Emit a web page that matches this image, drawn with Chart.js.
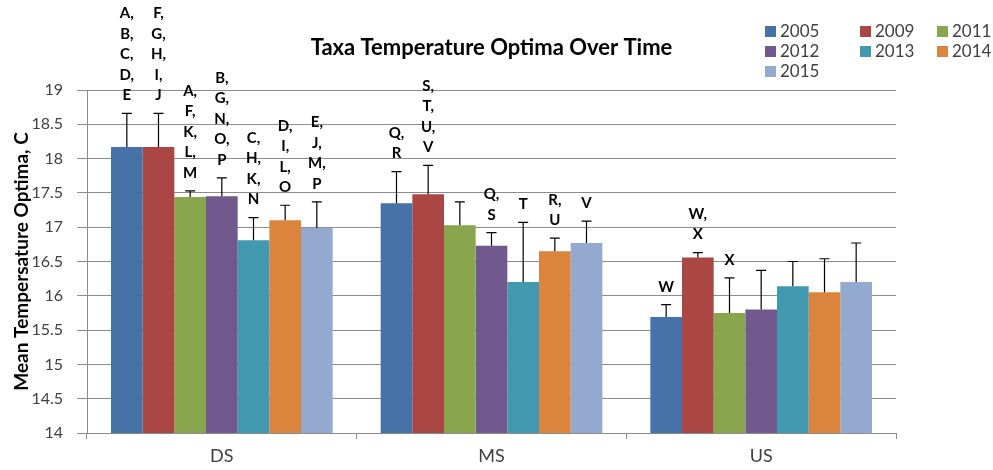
<!DOCTYPE html>
<html><head><meta charset="utf-8">
<script src="https://cdn.jsdelivr.net/npm/chart.js@4/dist/chart.umd.min.js"></script>
<style>html,body{margin:0;padding:0;background:#fff}#wrap{width:993px;height:470px}</style>
</head><body><div id="wrap"><canvas id="c" width="993" height="470"></canvas></div>
<script>
const categories = ['DS', 'MS', 'US'];
const years = ['2005', '2009', '2011', '2012', '2013', '2014', '2015'];
const colors = ['#4572A7', '#AA4643', '#89A54E', '#71588F', '#4198AF', '#DB843D', '#93A9CF'];

// Mean temperature optima per category (DS, MS, US)
const mean2005 = [18.17, 17.35, 15.69];
const mean2009 = [18.17, 17.48, 16.56];
const mean2011 = [17.44, 17.03, 15.75];
const mean2012 = [17.45, 16.73, 15.80];
const mean2013 = [16.81, 16.20, 16.14];
const mean2014 = [17.10, 16.65, 16.05];
const mean2015 = [16.99, 16.77, 16.20];

// Upper error bar lengths
const err2005 = [0.49, 0.46, 0.18];
const err2009 = [0.49, 0.42, 0.07];
const err2011 = [0.09, 0.34, 0.51];
const err2012 = [0.27, 0.19, 0.57];
const err2013 = [0.33, 0.87, 0.36];
const err2014 = [0.22, 0.19, 0.49];
const err2015 = [0.38, 0.32, 0.57];

// Significance letters above bars
const letters2005 = [['A,', 'B,', 'C,', 'D,', 'E'], ['Q,', 'R'], ['W']];
const letters2009 = [['F,', 'G,', 'H,', 'I,', 'J'], ['S,', 'T,', 'U,', 'V'], ['W,', 'X']];
const letters2011 = [['A,', 'F,', 'K,', 'L,', 'M'], [], ['X']];
const letters2012 = [['B,', 'G,', 'N,', 'O,', 'P'], ['Q,', 'S'], []];
const letters2013 = [['C,', 'H,', 'K,', 'N'], ['T'], []];
const letters2014 = [['D,', 'I,', 'L,', 'O'], ['R,', 'U'], []];
const letters2015 = [['E,', 'J,', 'M,', 'P'], ['V'], []];

const yMin = 14, yMax = 19, yStep = 0.5;

const means = [mean2005, mean2009, mean2011, mean2012, mean2013, mean2014, mean2015];
const errs = [err2005, err2009, err2011, err2012, err2013, err2014, err2015];
const letters = [letters2005, letters2009, letters2011, letters2012, letters2013, letters2014, letters2015];

const FONT = 'Lato, "Open Sans", sans-serif';
const TEXT = '#404040';
const GRID = '#8c8c8c';

const datasets = years.map((y, i) => ({
  label: y,
  data: means[i],
  errors: errs[i],
  letters: letters[i],
  backgroundColor: colors[i],
  borderWidth: 0,
  categoryPercentage: 0.822,
  barPercentage: 1.0
}));

const errorLabelPlugin = {
  id: 'errLabels',
  afterDatasetsDraw(chart) {
    const ctx = chart.ctx, ys = chart.scales.y;
    chart.data.datasets.forEach((ds, i) => {
      const meta = chart.getDatasetMeta(i);
      meta.data.forEach((bar, j) => {
        const base = ys.getPixelForValue(ds.data[j]);
        const top = ys.getPixelForValue(ds.data[j] + ds.errors[j]);
        ctx.save();
        ctx.strokeStyle = '#000';
        ctx.lineWidth = 1.2;
        ctx.beginPath();
        ctx.moveTo(bar.x, base); ctx.lineTo(bar.x, top);
        ctx.moveTo(bar.x - 5, top); ctx.lineTo(bar.x + 5, top);
        ctx.stroke();
        const lines = ds.letters[j];
        ctx.font = 'bold 15px ' + FONT;
        ctx.fillStyle = '#000';
        ctx.textAlign = 'center';
        ctx.textBaseline = 'middle';
        for (let k = 0; k < lines.length; k++) {
          ctx.fillText(lines[k], bar.x, top - 18 - (lines.length - 1 - k) * 20.5);
        }
        ctx.restore();
      });
    });
  }
};

const legendPlugin = {
  id: 'gridLegend',
  afterDraw(chart) {
    const ctx = chart.ctx;
    const colX = [765, 860, 937];
    const rowY = [31.5, 51.5, 71.5];
    ctx.save();
    ctx.font = '17px ' + FONT;
    ctx.textBaseline = 'middle';
    ctx.textAlign = 'left';
    chart.data.datasets.forEach((ds, i) => {
      const x = colX[i % 3], y = rowY[Math.floor(i / 3)];
      ctx.fillStyle = ds.backgroundColor;
      ctx.fillRect(x, y - 5.5, 11, 11);
      ctx.fillStyle = TEXT;
      ctx.fillText(ds.label, x + 15, y + 0.5);
    });
    ctx.restore();
  }
};

new Chart(document.getElementById('c'), {
  type: 'bar',
  data: { labels: categories, datasets },
  options: {
    responsive: false,
    animation: false,
    devicePixelRatio: 1,
    layout: { padding: { left: 0, right: 97, top: 0, bottom: 0 } },
    plugins: {
      legend: { display: false },
      tooltip: { enabled: false },
      title: {
        display: true,
        text: 'Taxa Temperature Optima Over Time',
        fullSize: false,
        color: '#000',
        font: { family: FONT, size: 22, weight: 'bold' },
        padding: { top: 35, bottom: 28.6 }
      }
    },
    scales: {
      x: {
        afterFit(s) { s.height = 37; },
        border: { color: GRID, width: 1 },
        grid: { drawOnChartArea: false, drawTicks: true, tickLength: 6, color: GRID, offset: true },
        ticks: { color: TEXT, font: { family: FONT, size: 18 }, padding: 6 }
      },
      y: {
        min: yMin, max: yMax,
        afterFit(s) { s.width = 87; },
        border: { color: GRID, width: 1 },
        grid: { color: GRID, tickLength: 10, drawTicks: true },
        ticks: {
          stepSize: yStep, color: TEXT, font: { family: FONT, size: 16 }, padding: 14,
          callback: v => String(Math.round(v * 10) / 10)
        },
        title: {
          display: true,
          text: 'Mean Tempersature Optima, C',
          color: '#000',
          font: { family: FONT, size: 19, weight: 'bold' },
          padding: { top: 10, bottom: 0 }
        }
      }
    }
  },
  plugins: [errorLabelPlugin, legendPlugin]
});
</script></body></html>
